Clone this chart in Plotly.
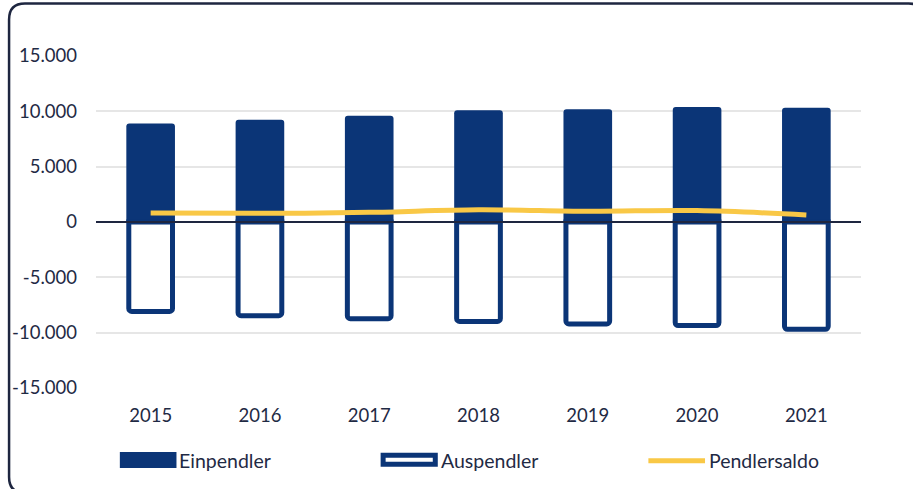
import plotly.graph_objects as go

years = ["2015", "2016", "2017", "2018", "2019", "2020", "2021"]
einpendler = [8890, 9250, 9610, 10090, 10180, 10390, 10330]
auspendler = [-8080, -8470, -8740, -8980, -9210, -9360, -9690]
pendlersaldo = [810, 780, 870, 1110, 970, 1030, 640]
y_tickvals = [-15000, -10000, -5000, 0, 5000, 10000, 15000]
y_ticktext = ["-15.000", "-10.000", "-5.000", "0", "5.000", "10.000", "15.000"]

NAVY = "#0B3577"
YELLOW = "#F9C846"
TEXT = "#1F2A44"
FRAME = "#1E2640"
FONT = "Lato, 'Open Sans', sans-serif"

W, H = 913, 489
L, R, T, B = 91, 52, 56, 101
PW = W - L - R
PH = H - T - B


def px(x):
    return (x - L) / PW


def py(y):
    return (H - B - y) / PH


fig = go.Figure()
fig.add_trace(go.Bar(
    x=years, y=einpendler, name="Einpendler",
    marker=dict(color=NAVY, line=dict(width=0), cornerradius=3),
    width=0.445, showlegend=False,
))
fig.add_trace(go.Bar(
    x=years, y=auspendler, name="Auspendler",
    marker=dict(color="white", line=dict(color=NAVY, width=5), cornerradius=3),
    width=0.40, showlegend=False,
))
fig.add_trace(go.Scatter(
    x=years, y=pendlersaldo, name="Pendlersaldo", mode="lines",
    line=dict(color=YELLOW, width=5, shape="spline", smoothing=1.0),
    showlegend=False,
))

shapes = []
# zero line above bars
shapes.append(dict(type="line", xref="paper", yref="y", x0=0, x1=1, y0=0, y1=0,
                   line=dict(color=FRAME, width=2), layer="above"))
# frame
x0, y0, x1, y1, r = 3.5, 3.5, 925, 493, 16
path = (f"M {px(x0 + r)},{py(y0)} L {px(x1 - r)},{py(y0)} Q {px(x1)},{py(y0)} {px(x1)},{py(y0 + r)} "
        f"L {px(x1)},{py(y1 - r)} Q {px(x1)},{py(y1)} {px(x1 - r)},{py(y1)} "
        f"L {px(x0 + r)},{py(y1)} Q {px(x0)},{py(y1)} {px(x0)},{py(y1 - r)} "
        f"L {px(x0)},{py(y0 + r)} Q {px(x0)},{py(y0)} {px(x0 + r)},{py(y0)} Z")
shapes.append(dict(type="path", xref="paper", yref="paper", path=path,
                   line=dict(color=FRAME, width=2.5), fillcolor="rgba(0,0,0,0)"))
# legend symbols
shapes.append(dict(type="rect", xref="paper", yref="paper",
                   x0=px(115), x1=px(172), y0=py(468), y1=py(452),
                   fillcolor=NAVY, line=dict(width=0)))
shapes.append(dict(type="rect", xref="paper", yref="paper",
                   x0=px(380), x1=px(432.5), y0=py(464.2), y1=py(455.2),
                   fillcolor="white", line=dict(color=NAVY, width=5)))
shapes.append(dict(type="line", xref="paper", yref="paper",
                   x0=px(647), x1=px(704), y0=py(460.7), y1=py(460.7),
                   line=dict(color=YELLOW, width=5)))

annotations = []
for label, xpos in [("Einpendler", 173), ("Auspendler", 436), ("Pendlersaldo", 706)]:
    annotations.append(dict(text=label, xref="paper", yref="paper", x=px(xpos), y=py(460),
                            xanchor="left", yanchor="middle", showarrow=False,
                            font=dict(family=FONT, size=19.5, color=TEXT)))

fig.update_layout(
    width=W, height=H,
    margin=dict(l=L, r=R, t=T, b=B, pad=0),
    barmode="relative",
    plot_bgcolor="white", paper_bgcolor="white",
    font=dict(family=FONT, size=18, color=TEXT),
    shapes=shapes, annotations=annotations,
    showlegend=False,
    xaxis=dict(showgrid=False, showline=False, ticks="", ticklabelstandoff=14,
               tickfont=dict(size=18.5, color=TEXT)),
    yaxis=dict(range=[-15000, 15000], tickvals=y_tickvals, ticktext=y_ticktext,
               showgrid=True, gridcolor="#E6E6E6", gridwidth=2,
               zeroline=False, showline=False, ticks="", ticklabelstandoff=18,
               tickfont=dict(size=18.5, color=TEXT)),
)

fig.write_html(
    "out.html",
    config={"displayModeBar": False},
    post_script="document.body.style.margin='0';document.body.style.overflow='hidden';",
)
